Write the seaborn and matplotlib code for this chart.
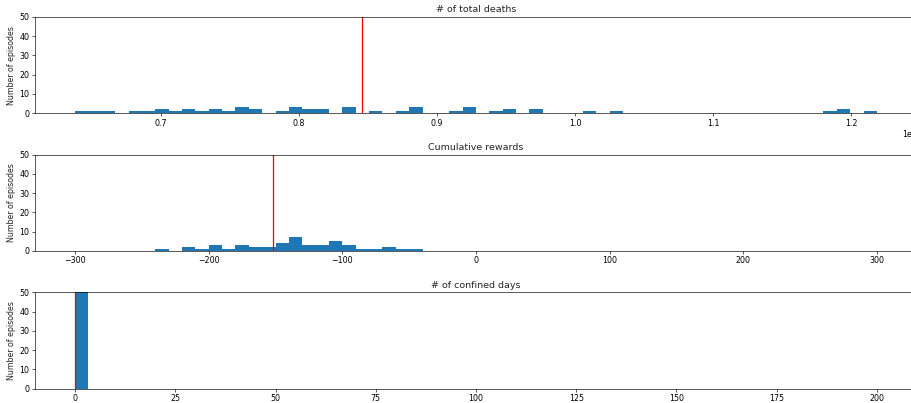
import numpy as np
import pandas as pd
import matplotlib
matplotlib.use("Agg")
import matplotlib.pyplot as plt
import seaborn as sns

# Per-episode outcomes of the simulation runs
total_deaths = [
    637800, 652300, 662000, 681400, 691000,
    700700, 700800, 710400, 720100, 720000, 729800, 739400, 739500, 749100,
    758800, 758700, 758900, 768500, 768400, 787800,
    797500, 797600, 797400, 807200, 807300, 816900, 816800,
    836200, 836300, 836100, 855600, 875000, 884600, 884700, 884500,
    913700, 923400, 923300, 923500, 942700, 952400, 952500,
    971800, 971700, 1010500, 1029800, 1184700, 1194400, 1194500, 1218600,
]
cumulative_rewards = [
    -235, -215, -215, -205, -195, -195, -195, -185, -175, -175, -175,
    -165, -165, -155, -155, -145, -145, -145, -145,
    -135, -135, -135, -135, -135, -135, -135,
    -125, -125, -125, -115, -115, -115,
    -105, -105, -105, -105, -105, -95, -95, -95,
    -85, -75, -65, -65, -55, -45,
]
confined_days = [0] * 50

# Mean over all episodes, drawn as red reference lines
mean_deaths = 845700
mean_rewards = -152
mean_confined = 0

titles = ["# of total deaths", "Cumulative rewards", "# of confined days"]
ylabel = "Number of episodes"
n_bins = 60
bar_color = "#1f77b4"

sns.set_style("ticks")
plt.rcParams["font.family"] = ["DejaVu Sans"]

W, H = 911, 403
dpi = W / 16.0
fig, axes = plt.subplots(3, 1, figsize=(16.0, H / dpi), dpi=dpi)
fig.subplots_adjust(left=35 / W, right=917 / W, top=1 - 17 / H,
                    bottom=1 - 388.5 / H, hspace=0.43)

panels = [
    (total_deaths, mean_deaths, None),
    (cumulative_rewards, mean_rewards, (-300, 300)),
    (confined_days, mean_confined, (0, 200)),
]

for ax, title, (values, mean_val, brange) in zip(axes, titles, panels):
    kw = dict(bins=n_bins, color=bar_color, alpha=1, linewidth=0)
    if brange is not None:
        kw["binrange"] = brange
    sns.histplot(x=values, ax=ax, **kw)
    ax.axvline(mean_val, color="red", linewidth=1.6)
    ax.set_ylim(0, 50)
    ax.set_title(title, fontsize=12)
    ax.set_ylabel(ylabel, fontsize=10)
    ax.set_xlabel("")
    ax.tick_params(labelsize=10, colors="black", length=3.5, width=0.8)
    for sp in ax.spines.values():
        sp.set_color("black")
        sp.set_linewidth(0.8)

axes[2].set_xlim(-10, 210)
axes[1].set_xlim(-330, 330)

fig.savefig("out.png", dpi=dpi)
